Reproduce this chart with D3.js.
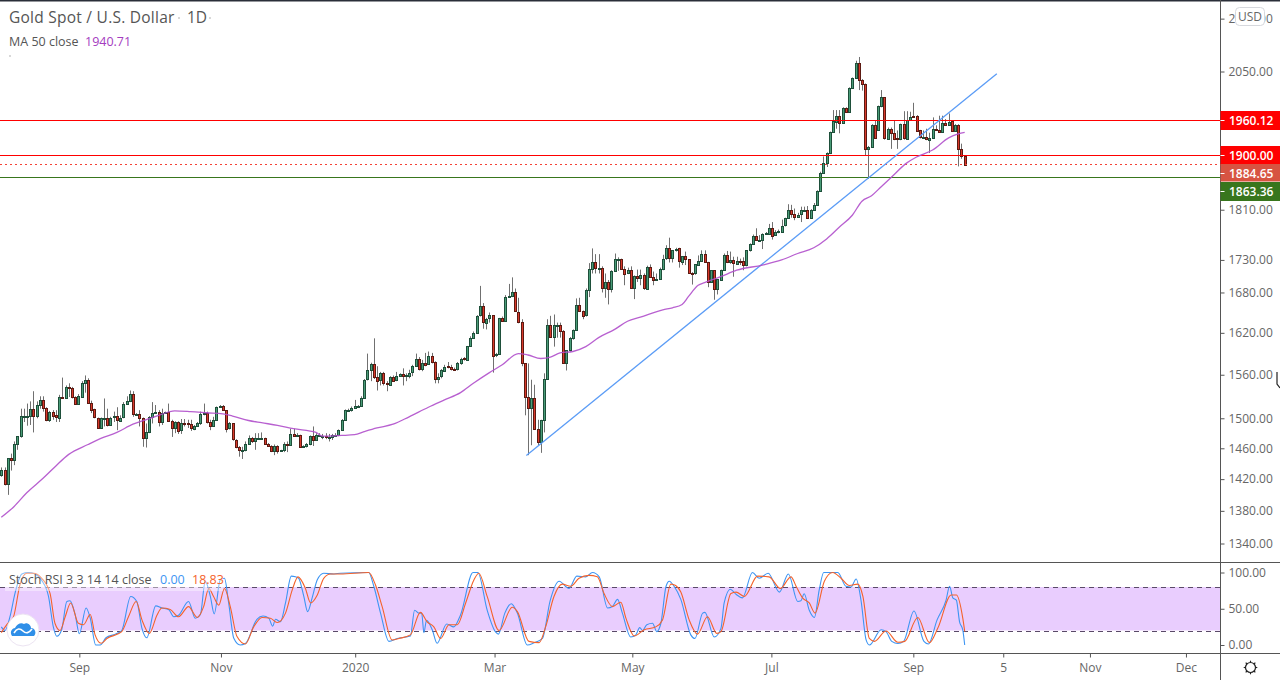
<!DOCTYPE html>
<html>
<head>
<meta charset="utf-8">
<script src="https://cdn.jsdelivr.net/npm/d3@7"></script>
<style>
  html, body { margin: 0; padding: 0; background: #fff; }
  svg { display: block; font-family: "Open Sans", sans-serif; }
  .domain { display: none; }
</style>
</head>
<body>
<svg id="chart" width="1280" height="680"></svg>
<script>
// values, one bar per trading day
const opens = [
  1426,1432,1414,1447,1445,1466,1476,1503,1503,1503,
  1512,1503,1518,1525,1514,1498,1509,1504,1501,1529,
  1528,1543,1541,1529,1519,1530,1549,1553,1521,1512,
  1501,1487,1500,1501,1491,1501,1503,1497,1501,1519,
  1523,1533,1506,1506,1501,1474,1482,1502,1507,1509,
  1495,1507,1508,1496,1487,1495,1483,1494,1494,1492,
  1486,1490,1494,1506,1507,1495,1490,1498,1515,1517,
  1511,1486,1493,1471,1462,1458,1458,1466,1474,1470,
  1474,1474,1474,1466,1463,1457,1463,1457,1458,1466,
  1465,1479,1476,1478,1462,1463,1466,1476,1471,1478,
  1475,1476,1475,1475,1477,1477,1484,1498,1511,1511,
  1514,1517,1517,1528,1553,1566,1575,1557,1552,1562,
  1548,1546,1557,1552,1558,1561,1558,1559,1563,1572,
  1582,1568,1577,1574,1586,1578,1554,1557,1566,1572,
  1571,1568,1567,1576,1583,1581,1601,1613,1620,1645,
  1659,1635,1641,1646,1587,1589,1642,1637,1673,1674,
  1680,1651,1636,1576,1529,1514,1528,1486,1469,1498,
  1554,1631,1614,1631,1632,1623,1577,1595,1613,1624,
  1661,1652,1645,1684,1716,1727,1717,1718,1687,1696,
  1686,1713,1731,1731,1716,1709,1714,1686,1705,1702,
  1706,1686,1719,1703,1698,1700,1716,1732,1748,1732,
  1745,1748,1727,1736,1731,1710,1709,1723,1729,1740,
  1727,1696,1714,1685,1700,1715,1738,1727,1730,1725,
  1729,1728,1722,1745,1755,1768,1761,1762,1771,1772,
  1781,1769,1774,1775,1784,1796,1809,1803,1799,1802,
  1809,1810,1797,1810,1818,1841,1871,1888,1905,1941,
  1960,1970,1957,1984,1976,2020,2038,2066,2035,2027,
  1912,1915,1954,1945,1987,2003,1930,1947,1940,1930,
  1928,1955,1930,1963,1970,1970,1944,1931,1932,1928,
  1931,1947,1945,1941,1957,1954,1960,1943,1954,1912,
  1900
];
const highs = [
  1435,1435,1447,1453,1469,1476,1513,1513,1520,1523,
  1537,1523,1530,1530,1515,1510,1511,1511,1532,1556,
  1545,1548,1543,1530,1533,1551,1559,1555,1524,1513,
  1501,1501,1527,1513,1502,1509,1515,1504,1522,1530,
  1538,1537,1507,1511,1501,1493,1503,1522,1518,1511,
  1513,1509,1520,1498,1496,1496,1499,1499,1498,1498,
  1491,1495,1509,1520,1509,1498,1502,1516,1518,1518,
  1511,1495,1493,1472,1463,1462,1469,1477,1475,1480,
  1480,1481,1474,1467,1464,1465,1464,1458,1468,1469,
  1486,1486,1480,1478,1464,1467,1477,1489,1480,1480,
  1479,1480,1479,1479,1480,1485,1499,1512,1513,1516,
  1525,1518,1530,1554,1590,1577,1612,1572,1564,1564,
  1551,1558,1559,1564,1562,1569,1562,1567,1574,1590,
  1585,1581,1591,1593,1591,1579,1562,1568,1574,1578,
  1574,1570,1578,1584,1585,1601,1615,1622,1646,1690,
  1664,1642,1650,1646,1591,1642,1644,1676,1693,1703,
  1686,1672,1640,1576,1576,1553,1546,1498,1498,1562,
  1640,1645,1647,1635,1635,1624,1595,1614,1625,1671,
  1672,1653,1686,1725,1748,1739,1739,1720,1709,1699,
  1714,1740,1734,1732,1720,1718,1720,1706,1715,1715,
  1709,1721,1723,1712,1709,1718,1738,1753,1765,1745,
  1749,1749,1736,1743,1731,1711,1723,1737,1745,1745,
  1727,1714,1714,1700,1715,1740,1744,1743,1735,1735,
  1732,1734,1745,1756,1770,1780,1769,1772,1774,1787,
  1790,1777,1778,1794,1797,1819,1818,1812,1805,1815,
  1815,1816,1811,1821,1842,1873,1899,1906,1942,1980,
  1980,1980,1985,1985,2021,2039,2070,2077,2036,2028,
  1917,1955,1961,1988,2016,2003,1949,1949,1961,1944,
  1956,1978,1978,1977,1993,1971,1945,1944,1947,1940,
  1967,1953,1970,1970,1964,1974,1962,1955,1955,1921,
  1900
];
const lows = [
  1423,1412,1400,1431,1438,1458,1474,1495,1490,1491,
  1481,1500,1513,1509,1496,1495,1498,1495,1495,1527,
  1527,1529,1527,1519,1519,1530,1535,1520,1507,1500,
  1487,1487,1489,1489,1491,1495,1484,1495,1500,1519,
  1522,1502,1505,1489,1462,1461,1480,1493,1507,1489,
  1491,1507,1495,1475,1480,1479,1479,1489,1487,1483,
  1484,1489,1491,1504,1493,1484,1489,1497,1514,1510,
  1481,1485,1470,1460,1449,1446,1456,1465,1467,1458,
  1473,1473,1465,1462,1455,1451,1453,1456,1455,1455,
  1463,1475,1475,1461,1461,1461,1464,1463,1471,1476,
  1472,1472,1469,1471,1475,1476,1483,1497,1509,1509,
  1514,1516,1516,1527,1552,1551,1554,1538,1545,1545,
  1537,1545,1551,1551,1557,1545,1551,1555,1558,1571,
  1566,1565,1572,1574,1576,1548,1548,1555,1565,1569,
  1566,1566,1566,1574,1580,1580,1600,1612,1619,1644,
  1626,1625,1635,1563,1585,1588,1637,1636,1673,1673,
  1651,1634,1572,1504,1451,1464,1486,1464,1454,1481,
  1553,1613,1600,1613,1613,1576,1566,1593,1610,1623,
  1651,1640,1644,1673,1709,1709,1709,1680,1672,1662,
  1680,1712,1713,1715,1691,1708,1686,1670,1696,1691,
  1684,1684,1703,1691,1698,1699,1714,1730,1726,1726,
  1743,1718,1722,1722,1709,1692,1707,1722,1728,1726,
  1688,1695,1669,1677,1699,1714,1725,1724,1704,1723,
  1722,1714,1720,1743,1754,1760,1760,1747,1770,1771,
  1762,1768,1772,1774,1783,1795,1797,1793,1797,1790,
  1808,1795,1796,1809,1817,1840,1870,1881,1903,1940,
  1947,1939,1956,1975,1975,2020,2037,2016,2015,1901,
  1861,1914,1931,1944,1985,1928,1928,1912,1927,1912,
  1927,1928,1929,1962,1967,1942,1930,1931,1927,1905,
  1930,1944,1940,1940,1952,1953,1942,1942,1882,1895,
  1883
];
const closes = [
  1432,1414,1447,1445,1466,1476,1503,1503,1503,1512,
  1503,1518,1525,1514,1498,1509,1504,1501,1529,1528,
  1543,1541,1529,1519,1530,1549,1553,1521,1512,1501,
  1487,1500,1501,1491,1501,1503,1497,1501,1519,1523,
  1533,1506,1506,1501,1474,1482,1502,1507,1509,1495,
  1507,1508,1496,1487,1495,1483,1493,1493,1492,1486,
  1490,1494,1506,1507,1495,1490,1498,1515,1517,1511,
  1486,1493,1471,1462,1458,1458,1466,1474,1470,1474,
  1474,1474,1466,1463,1457,1463,1457,1458,1466,1465,
  1479,1476,1477,1462,1463,1466,1476,1471,1478,1478,
  1476,1475,1475,1477,1477,1484,1498,1511,1511,1514,
  1517,1517,1528,1553,1566,1575,1557,1552,1562,1548,
  1546,1557,1552,1558,1561,1558,1559,1563,1572,1582,
  1568,1577,1574,1586,1578,1554,1557,1566,1571,1571,
  1568,1567,1576,1582,1581,1601,1613,1620,1645,1659,
  1635,1641,1646,1587,1589,1642,1637,1673,1674,1680,
  1651,1636,1576,1529,1514,1528,1486,1469,1498,1554,
  1631,1614,1631,1632,1623,1577,1595,1613,1624,1661,
  1652,1645,1683,1716,1727,1717,1718,1687,1696,1686,
  1713,1731,1731,1716,1709,1714,1686,1705,1702,1706,
  1686,1719,1703,1698,1700,1716,1732,1748,1732,1745,
  1747,1727,1736,1731,1710,1709,1723,1729,1740,1727,
  1696,1714,1685,1700,1715,1738,1727,1730,1725,1729,
  1728,1722,1745,1755,1768,1761,1762,1771,1772,1781,
  1769,1774,1776,1784,1796,1809,1803,1798,1802,1809,
  1810,1797,1810,1818,1841,1871,1888,1905,1941,1960,
  1970,1957,1984,1976,2020,2038,2066,2035,2027,1912,
  1915,1954,1932,1987,2003,1930,1947,1940,1930,1928,
  1955,1930,1963,1968,1968,1944,1931,1932,1928,1931,
  1947,1945,1941,1957,1954,1959,1943,1954,1912,1900,
  1884.65
];

// moving average, read at the bars listed in maBars
const maBars = [0,4,8,13,17,21,27,31,36,41,45,49,54,59,64,69,72,77,81,86,91,98,100,106,110,113,117,122,127,133,138,143,147,152,156,161,164,168,171,174,178,182,186,191,195,199,206,209,212,214,217,219,224,229,237,243,248,253,257,261,265,268,271,274,277,282,285,290,295,298,300];
const maValues = [1372,1385.5,1403,1421,1437,1452,1465,1473,1481,1492,1498,1504,1510,1509,1507.5,1506,1503,1497,1494,1490.5,1486,1481,1476,1477,1478,1482,1487,1492,1502,1515,1525,1535,1548,1563,1574,1590,1588,1583,1585,1591,1593,1600,1613,1625,1637,1643,1654,1657,1662,1674,1691,1695,1704,1714,1722,1730,1740,1749,1763,1782,1801,1824,1833,1848,1863,1888,1898,1910,1931,1938,1940.71];

// Stoch RSI lines, read at the bars listed next to them
const kBars = [0,1.2,2.7,4.3,6.4,8.4,10.5,12.6,14.7,16.2,17.3,18.8,20.4,21.4,23,24.3,26.4,27.7,29.4,30.8,32.6,35.5,37.5,40.3,42.2,43.8,45.3,48.1,50,52.1,53.7,55.2,58.3,60.4,62,63.5,65.1,66.3,68.2,69.5,70.8,72.4,74.4,76,79.6,81.5,83.3,84.5,85.4,86.9,88.5,90.3,91.6,92.6,94.2,95.4,96.8,98.4,100.4,103.6,105.6,114.4,116,118.1,120.7,123.3,127.4,128.7,130,130.9,131.6,132.4,134.2,135.7,138.7,140.9,143,146.9,148.4,151.3,153.9,154.8,156.8,158.8,160.7,163.8,165.9,168.5,170.9,173.7,176.8,179.2,182,184.1,186.2,188.8,190.3,191.9,193.4,196,197.6,198.8,199.7,201,202.8,204.1,205.4,207,208,209.5,211.6,214.7,216,218.4,219.1,222,224.1,225.1,227,228.8,230.8,233.9,236,238.8,242.3,245.1,248,249,250,251.6,253.2,254.7,256.1,260.5,263,264.6,266.2,267.7,269.3,270.3,274,275.5,277.3,279.2,281,284.2,287.3,288.7,291.4,294.2,295.3,296.3,297.4,298.4,299.4,300];
const kValues = [25,20,39,72,98,100,98,89,67,25,12,21,60,61,42,15.5,51,37,0,0,10,15,20,67,60,23,10,54,51,49,39,41,60,37,42,88,67,43,90,92,58,9.3,0,2,35.5,40,37,26,35.5,32,58,95,94,92,67,46,65,90,99,98,99,100,81,44,5,9,12.5,48,44,44,17,34,21,2.4,29,25,41.5,100,100,48,18,15,44,57,44,0,3,9,61,88,78,95,94,100,94,51,53,63,44,11,14,24,20,28,30,18.5,30,81,88,81,63,14,9,44,45,11,23,58,77,70,65,100,92,99,73,98,60,61,70.6,48,38,76,100,100,81,80,91,62,7,0,21,18.5,5,2,5,47,5,1.4,34.6,62,81,65,62,32,21,0];
const dBars = [0,1.7,3.8,5.8,7.9,10,12.6,15.2,16.7,18.3,19.9,21.6,24,25.6,27.7,29.2,31.1,32.9,37.5,39.6,42,43.8,46.1,48.5,50,52.6,55.2,58.3,61,63,64.6,66.1,67.7,69.5,71.3,73.4,76,78.6,81.2,83.8,85.9,88.5,90.6,92.4,94.7,96.3,98.4,100.4,102.5,105.6,114.4,116.5,118.6,121.7,123.8,127.4,130.5,132.6,134.7,136.8,139.4,142,144.6,147.2,148.7,151.3,155,159.1,160.7,164.3,167.5,169.5,172.1,174.7,177.3,179.9,183,185.6,187.7,190.3,192.9,194.5,197.1,200.2,203.8,205.9,208.5,210,211.6,214.2,216.8,219.9,222.8,224.1,227.2,228.8,231.4,235.5,239.1,242.6,245.9,247.5,249.5,251.6,253.4,256.3,258.9,261.5,264.1,266.7,268.3,270.3,271.9,275.5,279.2,281.3,285.4,289,291.6,295.8,297.4,299.4,300];
const dValues = [17,28,39,83,99,99,92,71,30,20,39,58,30,28,42,14,2.4,9,18.5,39,60,34.6,16,41.5,51,49,39,53,38,53,78,67,55,78,53,11.6,1.4,25,38,37,31,44,76,94,78,58,69,92,98,98,100,83,53,7,9,14,45,32,25,9,28,28,58,90,99,67,20,52,46,5,3.3,25,67,84,81,92,96,94,71,53,59,37,12.5,21,25,34.6,84,82,73,34.6,15,39,16,18.5,71,73,67,95,94,78,94,81,65,58,44,88,100,92,82,84,67,9,5,19.4,3.7,5,38,3.3,23,69,69,37,18.83];

const priceTicks = [2150,2050,1810,1730,1680,1620,1560,1500,1460,1420,1380,1340];
const stochTicks = [100,50,0];
const timeBars = [24.3,68.4,110.2,153.6,196.5,239.8,284,312,339,368.9];
const timeLabels = ['Sep','Nov','2020','Mar','May','Jul','Sep','5','Nov','Dec'];

const trendBars = [163.5,310];
const trendPrices = [1450.5,2046];
const levels = [
  {price: 1960.12, color: '#ff0000', dash: null, tag: '#ff0000'},
  {price: 1900, color: '#ff0000', dash: null, tag: '#ff0000'},
  {price: 1884.65, color: '#f44336', dash: '2,3', tag: '#d75442'},
  {price: 1863.36, color: '#38761d', dash: null, tag: '#38761d'}
];
const tagYs = [120.5, 155.5, 173.5, 191.5];

const svg = d3.select('#chart');
const axisX = 1220.5;
const stochTop = 562.5, stochBottom = 653.5;

const x = d3.scaleLinear().domain([0, 300]).range([1.3, 964.7]);
const y = d3.scaleLog().domain([2050, 1340]).range([71.5, 543.5]);
const yStoch = d3.scaleLinear().domain([100, 0]).range([572.5, 645]);

const main = svg.append('g');
const lower = svg.append('g');

// candles
const candle = main.append('g').selectAll('g')
  .data(opens.map((o, i) => i))
  .enter().append('g');
const snap = i => Math.round(x(i)) - 1;

candle.append('line')
  .attr('x1', i => snap(i) + 1.5).attr('x2', i => snap(i) + 1.5)
  .attr('y1', i => y(highs[i])).attr('y2', i => y(lows[i]))
  .attr('stroke', '#707070');
candle.append('rect')
  .attr('x', i => snap(i) + 0.5)
  .attr('width', 2)
  .attr('y', i => Math.round(y(Math.max(opens[i], closes[i]))) + 0.5)
  .attr('height', i => Math.max(1, Math.round(Math.abs(y(opens[i]) - y(closes[i])))))
  .attr('fill', i => closes[i] >= opens[i] ? '#4a9c78' : '#d8392b')
  .attr('stroke', i => closes[i] >= opens[i] ? '#1e4f3a' : '#5c1a12');

// horizontal levels
levels.forEach(l => {
  const py = Math.floor(y(l.price) - 0.4) + 0.5;
  main.append('line')
    .attr('x1', 0).attr('x2', axisX)
    .attr('y1', py).attr('y2', py)
    .attr('stroke', l.color)
    .attr('stroke-width', l.dash ? 1 : 1.2)
    .attr('stroke-dasharray', l.dash);
});

// trend line
main.append('line')
  .attr('x1', x(trendBars[0])).attr('y1', y(trendPrices[0]))
  .attr('x2', x(trendBars[1])).attr('y2', y(trendPrices[1]))
  .attr('stroke', '#5b9cf6')
  .attr('stroke-width', 1.3);

// MA 50
const maLine = d3.line()
  .x((d, i) => x(maBars[i]))
  .y(d => y(d))
  .curve(d3.curveMonotoneX);
main.append('path')
  .attr('d', maLine(maValues))
  .attr('fill', 'none')
  .attr('stroke', '#b04fcb')
  .attr('stroke-width', 1.3)
  .attr('stroke-opacity', 0.9);

// Stoch RSI pane
lower.append('rect')
  .attr('x', 0).attr('width', axisX)
  .attr('y', yStoch(80)).attr('height', yStoch(20) - yStoch(80))
  .attr('fill', '#e9cdfe');
[80, 20].forEach(v => {
  lower.append('line')
    .attr('x1', 0).attr('x2', axisX)
    .attr('y1', Math.round(yStoch(v)) + 0.5).attr('y2', Math.round(yStoch(v)) + 0.5)
    .attr('stroke', '#5a4a68')
    .attr('stroke-dasharray', '5,4');
});
const stochLine = bars => d3.line()
  .x((d, i) => x(bars[i]))
  .y(d => yStoch(d))
  .curve(d3.curveMonotoneX);
lower.append('path')
  .attr('d', stochLine(kBars)(kValues))
  .attr('fill', 'none').attr('stroke', '#3d95f3').attr('stroke-width', 1.1);
lower.append('path')
  .attr('d', stochLine(dBars)(dValues))
  .attr('fill', 'none').attr('stroke', '#f4622b').attr('stroke-width', 1.1);
// the legend sits on a faint veil
lower.append('rect')
  .attr('x', 5).attr('y', 572).attr('width', 218).attr('height', 19)
  .attr('fill', '#fff').attr('opacity', 0.4);

// frame lines
svg.append('rect').attr('width', 1280).attr('height', 1.5).attr('fill', '#2a2e39');
[stochTop, stochBottom].forEach(py => {
  svg.append('line').attr('x1', 0).attr('x2', 1280).attr('y1', py).attr('y2', py).attr('stroke', '#555');
});
svg.append('line').attr('x1', axisX).attr('x2', axisX).attr('y1', 0).attr('y2', 680).attr('stroke', '#555');

// axes
const styleAxis = g => {
  g.selectAll('text').attr('fill', '#666').attr('font-size', 12).attr('font-family', '"Open Sans", sans-serif');
  g.selectAll('line').attr('stroke', '#555');
};
svg.append('g')
  .attr('transform', `translate(${axisX},0)`)
  .call(d3.axisRight(y).tickValues(priceTicks).tickFormat(d3.format('.2f')).tickSize(4).tickPadding(4))
  .call(styleAxis);
svg.append('g')
  .attr('transform', `translate(${axisX},0)`)
  .call(d3.axisRight(yStoch).tickValues(stochTicks).tickFormat(d3.format('.2f')).tickSize(4).tickPadding(4))
  .call(styleAxis);
svg.append('g')
  .attr('transform', `translate(0,${stochBottom})`)
  .call(d3.axisBottom(x).tickValues(timeBars).tickFormat((d, i) => timeLabels[i]).tickSize(4).tickPadding(6))
  .call(styleAxis);

// price tags on the axis
levels.forEach((l, i) => {
  svg.append('rect')
    .attr('x', axisX).attr('width', 1280 - axisX)
    .attr('y', tagYs[i] - 9.5).attr('height', i === 2 ? 17.5 : 19)
    .attr('fill', l.tag);
  svg.append('line')
    .attr('x1', axisX).attr('x2', axisX + 4)
    .attr('y1', tagYs[i]).attr('y2', tagYs[i])
    .attr('stroke', '#fff');
  svg.append('text')
    .attr('x', axisX + 8.5).attr('y', tagYs[i] + 4.3)
    .attr('fill', '#fff').attr('font-size', 12).attr('font-weight', 600)
    .text(l.price.toFixed(2));
});

// USD button
svg.append('rect')
  .attr('x', 1235.5).attr('y', 7.5).attr('width', 29).attr('height', 18).attr('rx', 4)
  .attr('fill', '#fff').attr('stroke', '#d6d8dd');
svg.append('text')
  .attr('x', 1250).attr('y', 21).attr('text-anchor', 'middle')
  .attr('fill', '#666').attr('font-size', 12).text('USD');

// legends
svg.append('text').attr('x', 9).attr('y', 23).attr('fill', '#555').attr('font-size', 15.5).attr('letter-spacing', 0.25).text('Gold Spot / U.S. Dollar');
svg.append('text').attr('x', 187).attr('y', 23).attr('fill', '#555').attr('font-size', 15.5).text('1D');
svg.append('text').attr('x', 9).attr('y', 46).attr('fill', '#555').attr('font-size', 12.5).text('MA 50 close');
svg.append('text').attr('x', 85).attr('y', 46).attr('fill', '#a43cc0').attr('font-size', 12.5).text('1940.71');
[[178, 17], [209, 17], [9, 55]].forEach(p => {
  svg.append('rect').attr('x', p[0]).attr('y', p[1]).attr('width', 2).attr('height', 2).attr('fill', '#d8d8d8');
});

svg.append('text').attr('x', 9).attr('y', 584).attr('fill', '#555').attr('font-size', 12.5).text('Stoch RSI 3 3 14 14 close');
svg.append('text').attr('x', 160).attr('y', 584).attr('fill', '#3d95f3').attr('font-size', 12.5).text('0.00');
svg.append('text').attr('x', 192).attr('y', 584).attr('fill', '#f4622b').attr('font-size', 12.5).text('18.83');

// logo badge
const logo = svg.append('g').attr('transform', 'translate(23,630)');
logo.append('circle').attr('r', 16).attr('fill', '#fff').attr('stroke', '#ece4f2');
logo.append('path')
  .attr('d', 'M-11,6 C-14,1 -10,-2 -8,-2 C-6,-6 -2,-8 1,-6 C4,-8 8,-5 8,-2 C12,-2 14,3 11,6 Z')
  .attr('fill', '#2f8fe8');
logo.append('path')
  .attr('d', 'M-9,3 C-6,-2 -3,-2 0,1 C3,4 6,3 9,-1')
  .attr('fill', 'none').attr('stroke', '#fff').attr('stroke-width', 1.6);

// settings gear
const gear = svg.append('g').attr('transform', 'translate(1250.5,667.5)');
gear.append('circle').attr('r', 5).attr('fill', 'none').attr('stroke', '#222').attr('stroke-width', 1.2);
d3.range(8).forEach(k => {
  const a = k * Math.PI / 4;
  gear.append('line')
    .attr('x1', 5 * Math.cos(a)).attr('y1', 5 * Math.sin(a))
    .attr('x2', 6.8 * Math.cos(a)).attr('y2', 6.8 * Math.sin(a))
    .attr('stroke', '#222').attr('stroke-width', 1.2);
});

// mouse pointer at the right edge
svg.append('path')
  .attr('d', 'M1277,372 L1277,384 L1280,388')
  .attr('fill', 'none').attr('stroke', '#222').attr('stroke-width', 1.2);
</script>
</body>
</html>
